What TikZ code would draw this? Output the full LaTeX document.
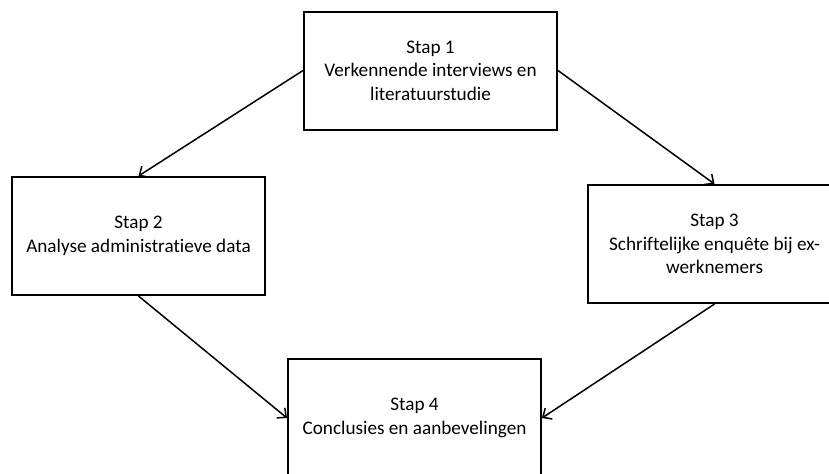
\documentclass[tikz,border=0pt]{standalone}
\usepackage{fontspec}
\setmainfont{Carlito}[Ligatures=NoCommon]
\usepackage{tikz}
\usetikzlibrary{arrows.meta}
\tikzstyle{every node}=[font=\fontsize{9.6}{11.75}\selectfont]
\tikzstyle{stapbox}=[draw,line width=1pt,rectangle,align=center,minimum width=126.5pt,minimum height=59pt,inner sep=0pt]
\tikzstyle{stappijl}=[-{Straight Barb[length=3.5pt,width=6.5pt]},line width=0.75pt]

\begin{document}
\begin{tikzpicture}[x=0.5pt,y=-0.5pt]
\useasboundingbox (0,0) rectangle (829,473);
\clip (0,0) rectangle (829,473);
\node[stapbox] (stap1) at (430.5,70.5) {Stap 1\\Verkennende interviews en\\literatuurstudie};
\node[stapbox] (stap2) at (138.5,236) {Stap 2\\Analyse administratieve data};
\node[stapbox] (stap3) at (714.5,244) {Stap 3\\Schriftelijke enquête bij ex-\\werknemers};
\node[stapbox] (stap4) at (414.5,418) {Stap 4\\Conclusies en aanbevelingen};
\draw[stappijl] (stap1.west)--(stap2.north);
\draw[stappijl] (stap1.east)--(stap3.north);
\draw[stappijl] (stap2.south)--(stap4.west);
\draw[stappijl] (stap3.south)--(stap4.east);
\end{tikzpicture}
\end{document}
